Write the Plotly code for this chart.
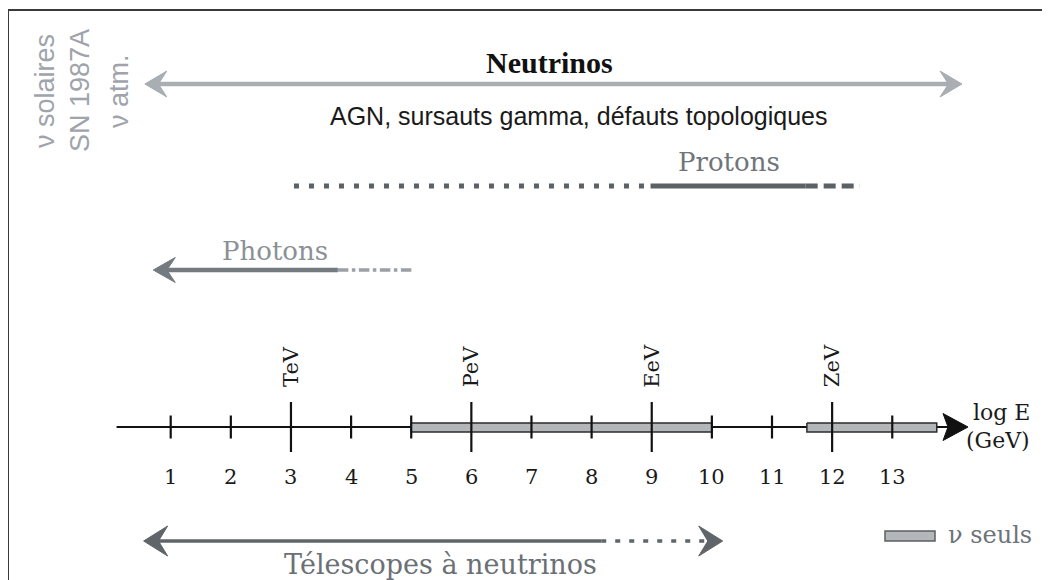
import plotly.graph_objects as go

# --- data (log10 E in GeV) ---
ticks = [1, 2, 3, 4, 5, 6, 7, 8, 9, 10, 11, 12, 13]
unit_ticks = [3, 6, 9, 12]
unit_labels = ["TeV", "PeV", "EeV", "ZeV"]
nu_only_bands = [[5.0, 10.0], [11.58, 13.74]]
axis_range = [0.10, 14.26]

neutrino_range = [0.57, 14.16]
proton_dotted = [3.05, 8.98]
proton_solid = [8.98, 11.56]
proton_dashed = [11.56, 12.46]
photon_solid = [0.71, 3.78]
photon_tail = [3.78, 5.06]
telescope_solid = [0.55, 8.16]
telescope_dotted = [8.16, 10.18]

left_labels = ["ν solaires", "SN 1987A", "ν atm."]

# page coordinates: the figure sits 8 px in from the page corner (body margin)
PAGE_W, PAGE_H, OFF = 1050, 580, 8
W, H = PAGE_W - OFF, PAGE_H - OFF
# 1 unit of log E = 60.13 px, "1" sits at 170.7 px on the page
X0, SCALE = 170.7, 60.13


def v(px):
    return 1 + (px - X0) / SCALE


fig = go.Figure()
shapes = []
ann = []

SERIF = "DejaVu Serif"
SANS = "Liberation Sans"


def seg(x, y, color, width, dash="solid"):
    fig.add_trace(go.Scatter(x=x, y=[y, y], mode="lines",
                             line=dict(color=color, width=width, dash=dash),
                             hoverinfo="skip", showlegend=False))


def head(xtip, y, d, color, L=22, Hh=26, notch=0.62):
    dx = L / SCALE
    p = (f"M {xtip},{y} L {xtip - d*dx},{y - Hh/2} "
         f"L {xtip - d*dx*notch},{y} L {xtip - d*dx},{y + Hh/2} Z")
    shapes.append(dict(type="path", path=p, xref="x", yref="y",
                       fillcolor=color, line=dict(color=color, width=1)))


def text(x, y, s, size, color, family, bold=False, angle=0, xanchor="center"):
    if bold:
        s = "<b>" + s + "</b>"
    ann.append(dict(x=v(x), y=y, xref="x", yref="y", text=s, showarrow=False,
                    textangle=angle, xanchor=xanchor, yanchor="middle",
                    font=dict(size=size, color=color, family=family)))


# neutrinos double arrow
nc = "#a9aeb3"
seg([neutrino_range[0] + 0.2, neutrino_range[1] - 0.2], 84, nc, 4.5)
head(neutrino_range[0], 84, -1, nc, L=22, Hh=26)
head(neutrino_range[1], 84, 1, nc, L=22, Hh=26)
text(549, 62, "Neutrinos", 30, "#111111", "Liberation Serif", bold=True)
text(579, 116, "AGN, sursauts gamma, défauts topologiques", 25, "#1a1a1a", SANS)

# protons
pc = "#5c6166"
seg(proton_dotted, 186, pc, 5, dash="5px,10px")
seg(proton_solid, 186, pc, 5)
seg(proton_dashed, 186, pc, 5, dash="12px,6px")
text(729, 162, "Protons", 26, "#6f757a", SERIF)

# photons
phc = "#737a80"
seg([photon_solid[0] + 0.2, photon_solid[1]], 270, phc, 4.5)
seg(photon_tail, 270, "#9aa0a5", 3.5, dash="dashdot")
head(photon_solid[0], 270, -1, phc, L=22, Hh=25)
text(275, 251, "Photons", 26, "#8a9096", SERIF)

# energy axis
seg([axis_range[0], axis_range[1] - 0.3], 427, "#111111", 2.2)
head(axis_range[1], 427, 1, "#111111", L=25, Hh=27, notch=0.8)
for a, b in nu_only_bands:
    fig.add_trace(go.Scatter(x=[a, b, b, a, a], y=[423, 423, 432, 432, 423],
                             mode="lines", fill="toself", fillcolor="#b4b7ba",
                             line=dict(color="#2b2b2b", width=1.5),
                             hoverinfo="skip", showlegend=False))
tx, ty = [], []
for t in ticks:
    h = 25 if t in unit_ticks else 11.5
    tx += [t, t, None]
    ty += [427 - h, 427 + h, None]
fig.add_trace(go.Scatter(x=tx, y=ty, mode="lines",
                         line=dict(color="#111111", width=2.2),
                         hoverinfo="skip", showlegend=False))
for t in ticks:
    ann.append(dict(x=t, y=477, xref="x", yref="y", text=str(t), showarrow=False,
                    font=dict(size=21, color="#1a1a1a", family=SERIF)))
for t, lab in zip(unit_ticks, unit_labels):
    ann.append(dict(x=t, y=366, xref="x", yref="y", text=lab, showarrow=False,
                    textangle=-90, font=dict(size=21, color="#1a1a1a", family=SERIF)))
text(1001, 412, "log E", 22, "#1a1a1a", SERIF)
text(998, 440, "(GeV)", 22, "#1a1a1a", SERIF)

# telescopes
tc = "#5f6569"
seg([telescope_solid[0] + 0.2, telescope_solid[1]], 541, tc, 3.5)
seg([telescope_dotted[0], telescope_dotted[1] - 0.2], 541, tc, 3.5, dash="5px,9px")
head(telescope_solid[0], 541, -1, tc, L=24, Hh=30)
head(telescope_dotted[1], 541, 1, tc, L=24, Hh=30)
text(440, 564, "Télescopes à neutrinos", 27, "#6a7075", SERIF)

# legend for neutrino-only bands
shapes.append(dict(type="rect", xref="x", yref="y", x0=v(885), x1=v(935), y0=531, y1=541,
                   fillcolor="#b4b7ba", line=dict(color="#5a5f63", width=1.5)))
text(946, 535, "ν seuls", 24, "#6d7378", SERIF, xanchor="left")

# left rotated labels
for xp, lab in zip([45, 80, 119], left_labels):
    text(xp, 91, lab, 27, "#9ea4aa", SANS, angle=-90)

# frame (page pixels -> paper)
fc = "#3a3a3a"
for x0, y0, x1, y1 in [(8, 10, 8, 590), (8, 10, 1047, 10), (1047, 10, 1047, 590)]:
    shapes.append(dict(type="line", xref="paper", yref="paper",
                       x0=(x0 - OFF) / W, x1=(x1 - OFF) / W,
                       y0=1 - (y0 - OFF) / H, y1=1 - (y1 - OFF) / H,
                       line=dict(color=fc, width=2)))

fig.update_layout(
    width=W, height=H, margin=dict(l=0, r=0, t=0, b=0),
    paper_bgcolor="white", plot_bgcolor="white",
    xaxis=dict(range=[v(OFF), v(PAGE_W)], visible=False, fixedrange=True),
    yaxis=dict(range=[PAGE_H, OFF], visible=False, fixedrange=True),
    shapes=shapes, annotations=ann, showlegend=False,
)

fig.write_html("out.html")
